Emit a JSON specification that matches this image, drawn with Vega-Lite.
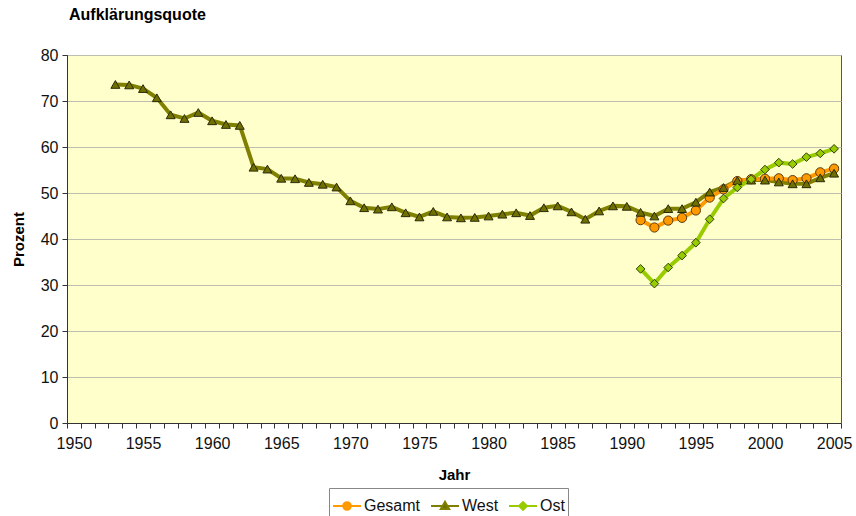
{
  "$schema": "https://vega.github.io/schema/vega-lite/v6.json",
  "width": 774,
  "height": 368,
  "autosize": {"type": "none"},
  "padding": {"left": 67, "top": 55, "right": 15, "bottom": 93},
  "background": "#ffffff",
  "title": {
    "text": "Aufklärungsquote",
    "anchor": "start",
    "frame": "group",
    "font": "Liberation Sans",
    "fontSize": 16,
    "fontWeight": "bold",
    "color": "#000000",
    "offset": 24,
    "dx": 2
  },
  "config": {
    "view": {"fill": "#FFFFCC", "stroke": "#555555", "strokeWidth": 1},
    "font": "Liberation Sans",
    "axis": {
      "labelFont": "Liberation Sans",
      "labelFontSize": 16,
      "labelColor": "#111111",
      "titleFont": "Liberation Sans",
      "titleFontSize": 15,
      "titleFontWeight": "bold",
      "titleColor": "#000000",
      "domainColor": "#333333",
      "tickColor": "#333333",
      "tickSize": 5,
      "gridColor": "#bdbdb0",
      "gridWidth": 1
    },
    "legend": {
      "orient": "none",
      "legendX": 262,
      "legendY": 433,
      "direction": "horizontal",
      "symbolSize": 784,
      "symbolStrokeWidth": 2,
      "symbolOpacity": 1,
      "labelFont": "Liberation Sans",
      "labelFontSize": 16,
      "labelColor": "#111111",
      "labelOffset": 2,
      "columnPadding": 6,
      "strokeColor": "#888888",
      "padding": 3,
      "fillColor": "#ffffff"
    }
  },
  "data": {
    "values": [
      {"Jahr": 1953, "Serie": "West", "Wert": 73.6},
      {"Jahr": 1954, "Serie": "West", "Wert": 73.5},
      {"Jahr": 1955, "Serie": "West", "Wert": 72.7},
      {"Jahr": 1956, "Serie": "West", "Wert": 70.7},
      {"Jahr": 1957, "Serie": "West", "Wert": 67.0},
      {"Jahr": 1958, "Serie": "West", "Wert": 66.2},
      {"Jahr": 1959, "Serie": "West", "Wert": 67.5},
      {"Jahr": 1960, "Serie": "West", "Wert": 65.7},
      {"Jahr": 1961, "Serie": "West", "Wert": 64.9},
      {"Jahr": 1962, "Serie": "West", "Wert": 64.7},
      {"Jahr": 1963, "Serie": "West", "Wert": 55.6},
      {"Jahr": 1964, "Serie": "West", "Wert": 55.2},
      {"Jahr": 1965, "Serie": "West", "Wert": 53.2},
      {"Jahr": 1966, "Serie": "West", "Wert": 53.1},
      {"Jahr": 1967, "Serie": "West", "Wert": 52.3},
      {"Jahr": 1968, "Serie": "West", "Wert": 51.9},
      {"Jahr": 1969, "Serie": "West", "Wert": 51.3},
      {"Jahr": 1970, "Serie": "West", "Wert": 48.3},
      {"Jahr": 1971, "Serie": "West", "Wert": 46.8},
      {"Jahr": 1972, "Serie": "West", "Wert": 46.5},
      {"Jahr": 1973, "Serie": "West", "Wert": 47.0},
      {"Jahr": 1974, "Serie": "West", "Wert": 45.7},
      {"Jahr": 1975, "Serie": "West", "Wert": 44.8},
      {"Jahr": 1976, "Serie": "West", "Wert": 46.0},
      {"Jahr": 1977, "Serie": "West", "Wert": 44.8},
      {"Jahr": 1978, "Serie": "West", "Wert": 44.6},
      {"Jahr": 1979, "Serie": "West", "Wert": 44.7},
      {"Jahr": 1980, "Serie": "West", "Wert": 45.0},
      {"Jahr": 1981, "Serie": "West", "Wert": 45.4},
      {"Jahr": 1982, "Serie": "West", "Wert": 45.7},
      {"Jahr": 1983, "Serie": "West", "Wert": 45.1},
      {"Jahr": 1984, "Serie": "West", "Wert": 46.8},
      {"Jahr": 1985, "Serie": "West", "Wert": 47.2},
      {"Jahr": 1986, "Serie": "West", "Wert": 45.9},
      {"Jahr": 1987, "Serie": "West", "Wert": 44.3},
      {"Jahr": 1988, "Serie": "West", "Wert": 46.1},
      {"Jahr": 1989, "Serie": "West", "Wert": 47.2},
      {"Jahr": 1990, "Serie": "West", "Wert": 47.1},
      {"Jahr": 1991, "Serie": "West", "Wert": 45.8},
      {"Jahr": 1992, "Serie": "West", "Wert": 45.0},
      {"Jahr": 1993, "Serie": "West", "Wert": 46.6},
      {"Jahr": 1994, "Serie": "West", "Wert": 46.6},
      {"Jahr": 1995, "Serie": "West", "Wert": 48.0},
      {"Jahr": 1996, "Serie": "West", "Wert": 50.2},
      {"Jahr": 1997, "Serie": "West", "Wert": 51.2},
      {"Jahr": 1998, "Serie": "West", "Wert": 52.7},
      {"Jahr": 1999, "Serie": "West", "Wert": 52.8},
      {"Jahr": 2000, "Serie": "West", "Wert": 52.8},
      {"Jahr": 2001, "Serie": "West", "Wert": 52.4},
      {"Jahr": 2002, "Serie": "West", "Wert": 52.0},
      {"Jahr": 2003, "Serie": "West", "Wert": 52.0},
      {"Jahr": 2004, "Serie": "West", "Wert": 53.3},
      {"Jahr": 2005, "Serie": "West", "Wert": 54.3},
      {"Jahr": 1991, "Serie": "Gesamt", "Wert": 44.1},
      {"Jahr": 1992, "Serie": "Gesamt", "Wert": 42.5},
      {"Jahr": 1993, "Serie": "Gesamt", "Wert": 44.0},
      {"Jahr": 1994, "Serie": "Gesamt", "Wert": 44.6},
      {"Jahr": 1995, "Serie": "Gesamt", "Wert": 46.2},
      {"Jahr": 1996, "Serie": "Gesamt", "Wert": 49.0},
      {"Jahr": 1997, "Serie": "Gesamt", "Wert": 50.8},
      {"Jahr": 1998, "Serie": "Gesamt", "Wert": 52.6},
      {"Jahr": 1999, "Serie": "Gesamt", "Wert": 53.0},
      {"Jahr": 2000, "Serie": "Gesamt", "Wert": 53.1},
      {"Jahr": 2001, "Serie": "Gesamt", "Wert": 53.2},
      {"Jahr": 2002, "Serie": "Gesamt", "Wert": 52.8},
      {"Jahr": 2003, "Serie": "Gesamt", "Wert": 53.2},
      {"Jahr": 2004, "Serie": "Gesamt", "Wert": 54.5},
      {"Jahr": 2005, "Serie": "Gesamt", "Wert": 55.3},
      {"Jahr": 1991, "Serie": "Ost", "Wert": 33.5},
      {"Jahr": 1992, "Serie": "Ost", "Wert": 30.3},
      {"Jahr": 1993, "Serie": "Ost", "Wert": 33.8},
      {"Jahr": 1994, "Serie": "Ost", "Wert": 36.4},
      {"Jahr": 1995, "Serie": "Ost", "Wert": 39.2},
      {"Jahr": 1996, "Serie": "Ost", "Wert": 44.3},
      {"Jahr": 1997, "Serie": "Ost", "Wert": 48.8},
      {"Jahr": 1998, "Serie": "Ost", "Wert": 51.2},
      {"Jahr": 1999, "Serie": "Ost", "Wert": 53.0},
      {"Jahr": 2000, "Serie": "Ost", "Wert": 55.1},
      {"Jahr": 2001, "Serie": "Ost", "Wert": 56.6},
      {"Jahr": 2002, "Serie": "Ost", "Wert": 56.3},
      {"Jahr": 2003, "Serie": "Ost", "Wert": 57.8},
      {"Jahr": 2004, "Serie": "Ost", "Wert": 58.6},
      {"Jahr": 2005, "Serie": "Ost", "Wert": 59.6}
    ]
  },
  "encoding": {
    "x": {
      "field": "Jahr",
      "type": "ordinal",
      "title": "Jahr",
      "scale": {
        "type": "band",
        "paddingInner": 0,
        "paddingOuter": 0,
        "domain": [1950,1951,1952,1953,1954,1955,1956,1957,1958,1959,1960,1961,1962,1963,1964,1965,1966,1967,1968,1969,1970,1971,1972,1973,1974,1975,1976,1977,1978,1979,1980,1981,1982,1983,1984,1985,1986,1987,1988,1989,1990,1991,1992,1993,1994,1995,1996,1997,1998,1999,2000,2001,2002,2003,2004,2005]
      },
      "axis": {
        "labelAngle": 0,
        "labelExpr": "datum.value % 5 === 0 ? datum.value : ''",
        "tickBand": "extent",
        "grid": false,
        "labelPadding": 7,
        "titlePadding": 16
      }
    },
    "y": {
      "field": "Wert",
      "type": "quantitative",
      "title": "Prozent",
      "scale": {"domain": [0, 80], "nice": false},
      "axis": {
        "values": [0, 10, 20, 30, 40, 50, 60, 70, 80],
        "grid": true,
        "labelPadding": 4,
        "titlePadding": 14
      }
    }
  },
  "layer": [
    {
      "mark": {"type": "line", "strokeWidth": 4},
      "encoding": {
        "stroke": {
          "field": "Serie",
          "type": "nominal",
          "title": null,
          "scale": {"domain": ["Gesamt", "West", "Ost"], "range": ["#FF9900", "#808000", "#99CC00"]}
        },
        "detail": {"field": "Serie"}
      }
    },
    {
      "transform": [{"filter": "datum.Serie === 'Gesamt'"}],
      "mark": {"type": "point", "shape": "circle", "filled": true, "opacity": 1, "fill": "#FF9900", "stroke": "#5a3a10", "strokeWidth": 1, "size": 85}
    },
    {
      "transform": [{"filter": "datum.Serie === 'West'"}],
      "mark": {"type": "point", "shape": "triangle-up", "filled": true, "opacity": 1, "fill": "#707000", "stroke": "#2a2a08", "strokeWidth": 1, "size": 80}
    },
    {
      "transform": [{"filter": "datum.Serie === 'Ost'"}],
      "mark": {"type": "point", "shape": "diamond", "filled": true, "opacity": 1, "fill": "#99CC00", "stroke": "#2f3f08", "strokeWidth": 1, "size": 75}
    },
    {
      "mark": {"type": "point", "filled": true, "opacity": 0, "strokeWidth": 2},
      "encoding": {
        "stroke": {"field": "Serie", "type": "nominal", "title": null},
        "fill": {
          "field": "Serie",
          "type": "nominal",
          "title": null,
          "scale": {"domain": ["Gesamt", "West", "Ost"], "range": ["#FF9900", "#707000", "#99CC00"]}
        },
        "shape": {
          "field": "Serie",
          "type": "nominal",
          "title": null,
          "scale": {
            "domain": ["Gesamt", "West", "Ost"],
            "range": [
              "M-1,0H-0.27M-0.27,0A0.27,0.27 0 1,1 0.27,0A0.27,0.27 0 1,1 -0.27,0ZM0.27,0H1",
              "M-1,0H-0.16M-0.3,0.22L0,-0.3L0.3,0.22ZM0.16,0H1",
              "M-1,0H-0.28M-0.28,0L0,-0.28L0.28,0L0,0.28ZM0.28,0H1"
            ]
          }
        }
      }
    }
  ]
}
